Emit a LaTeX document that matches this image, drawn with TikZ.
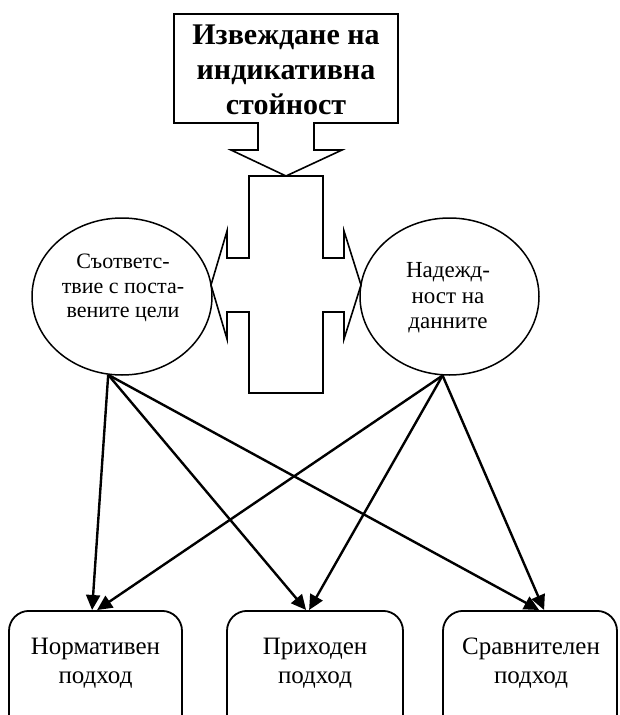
\documentclass[tikz,border=0pt]{standalone}
\usepackage{fontspec}
\setmainfont{Liberation Serif}
\usetikzlibrary{arrows.meta,calc,shapes.geometric}
\begin{document}
\begin{tikzpicture}[x=1pt,y=-1pt,
  outl/.style={draw=black,line width=1.6pt,line join=miter},
  ell/.style={ellipse,draw=black,line width=1.5pt,inner sep=0pt},
  appr/.style={draw=black,line width=1.8pt,rounded corners=20pt,inner sep=0pt,minimum height=140pt,anchor=north},
  conn/.style={draw=black,line width=2.4pt,-{Triangle[length=15pt,width=14pt]}},
  ttl/.style={font=\fontsize{30}{35}\selectfont\bfseries,align=center,inner sep=0pt},
  etxt/.style={font=\fontsize{22}{24.5}\selectfont,align=center,inner sep=0pt},
  btxt/.style={font=\fontsize{25}{29}\selectfont,align=center,inner sep=0pt}]
\useasboundingbox (0,0) rectangle (619,715);
\clip (0,0) rectangle (619,715);
% title callout
\draw[outl] (174,14) -- (398,14) -- (398,123) -- (314,123) -- (314,150) -- (342,150)
  -- (286,176) -- (231,150) -- (258,150) -- (258,123) -- (174,123) -- cycle;
\node[ttl] (title) at (286,70) {Извеждане на\\индикативна\\стойност};
% cross with double arrow
\draw[outl] (249,176) -- (323,176) -- (323,258) -- (344,258) -- (344,231) -- (361,285)
  -- (344,339) -- (344,312) -- (323,312) -- (323,393) -- (249,393) -- (249,312)
  -- (227,312) -- (227,339) -- (211,285) -- (227,231) -- (227,258) -- (249,258) -- cycle;
% ellipses
\node[ell,minimum width=180pt,minimum height=157pt] (L) at (122,296.5) {};
\node[etxt] (Lt) at (123,288) {Съответс-\\твие с поста-\\вените цели};
\node[ell,minimum width=179pt,minimum height=157pt] (R) at (449.5,296.5) {};
\node[etxt,font=\fontsize{23}{25.5}\selectfont] (Rt) at (448,298) {Надежд-\\ност на\\данните};
% approach boxes
\node[appr,minimum width=173pt] (B1) at (95.5,610) {};
\node[appr,minimum width=176pt] (B2) at (315,610) {};
\node[appr,minimum width=174pt] (B3) at (530,610) {};
\node[btxt] (B1t) at (95.5,663) {Нормативен\\подход};
\node[btxt] (B2t) at (315,663) {Приходен\\подход};
\node[btxt] (B3t) at (531,663) {Сравнителен\\подход};
% connectors
\draw[conn] (L.260) -- ($(B1.north west)+(84,0)$);
\draw[conn] (R.265) -- ($(B1.north west)+(89,0)$);
\draw[conn] (L.260) -- ($(B2.north west)+(80,0)$);
\draw[conn] (R.265) -- ($(B2.north west)+(83,0)$);
\draw[conn] (L.260) -- ($(B3.north west)+(97,0)$);
\draw[conn] (R.265) -- ($(B3.north west)+(102,0)$);
\end{tikzpicture}
\end{document}
